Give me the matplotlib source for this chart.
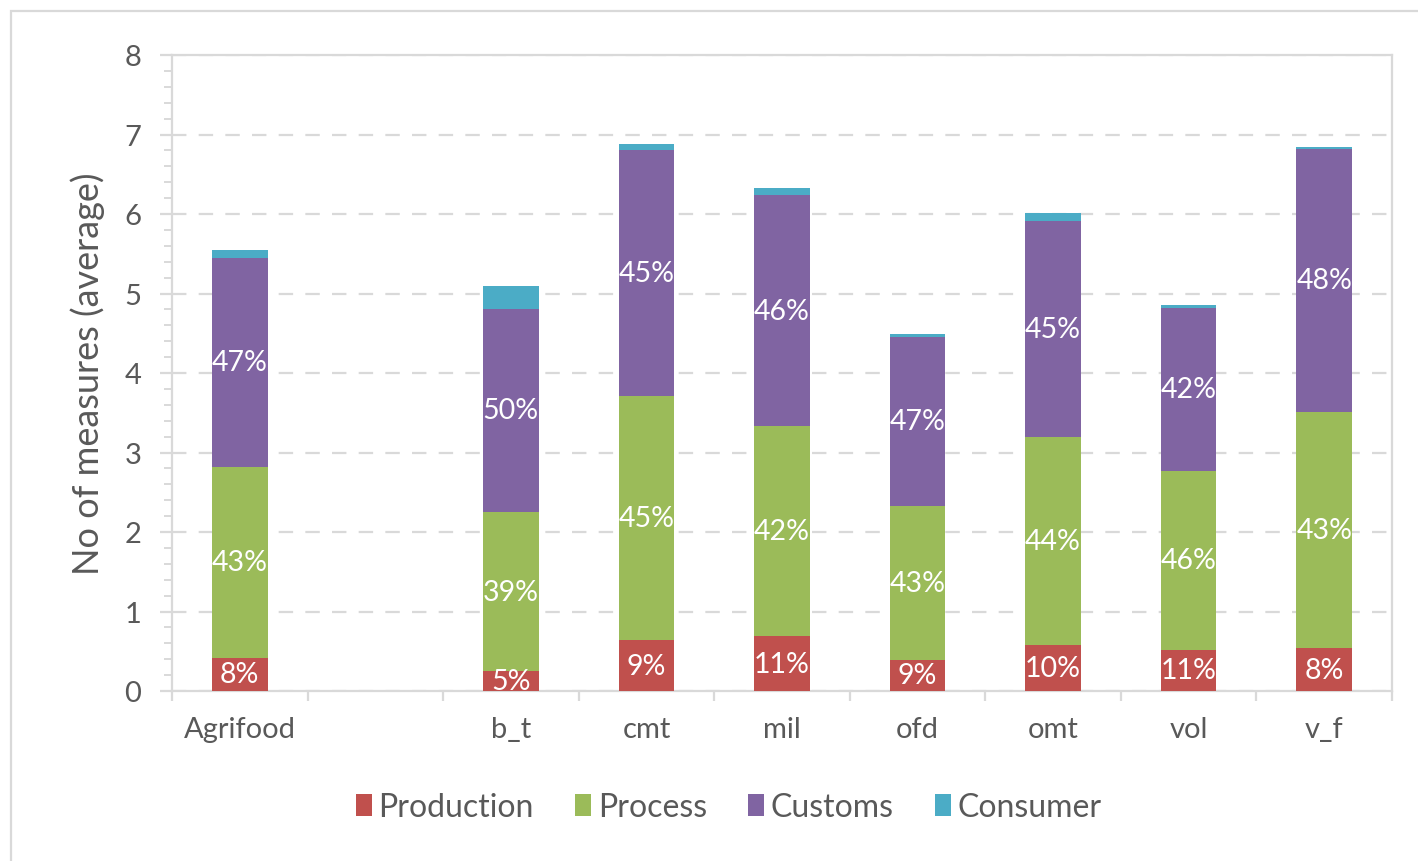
import numpy as np
import matplotlib
matplotlib.use("Agg")
import matplotlib.pyplot as plt
from matplotlib.patches import Rectangle

plt.rcParams['font.family'] = ['Lato', 'DejaVu Sans']

# Sectors (one empty spacer slot after the aggregate)
categories = ["Agrifood", "", "b_t", "cmt", "mil", "ofd", "omt", "vol", "v_f"]

# Average number of measures per stage
production = [0.42, np.nan, 0.25, 0.64, 0.69, 0.39, 0.58, 0.52, 0.54]
process    = [2.40, np.nan, 2.00, 3.07, 2.64, 1.94, 2.62, 2.25, 2.97]
customs    = [2.63, np.nan, 2.56, 3.09, 2.91, 2.12, 2.71, 2.05, 3.31]
consumer   = [0.10, np.nan, 0.29, 0.08, 0.09, 0.04, 0.10, 0.03, 0.02]

series_names = ["Production", "Process", "Customs", "Consumer"]
series_colors = ["#C0504D", "#9BBB59", "#8064A2", "#4BACC6"]
labelled = [True, True, True, False]

text_gray = "#595959"
line_gray = "#D9D9D9"

W, H = 1418, 862
fig = plt.figure(figsize=(W / 100, H / 100), dpi=100)
fig.patch.set_facecolor("white")

# chart frame (top and left edges visible)
fig.add_artist(Rectangle((11 / W, -0.1), 1.2, (H - 12) / H + 0.1,
                         transform=fig.transFigure, fill=False,
                         edgecolor=line_gray, linewidth=1.6))

ax = fig.add_axes([172 / W, (H - 692) / H, (1392 - 172) / W, (692 - 56) / H])

x = np.arange(len(categories))
data = [np.array(s, dtype=float) for s in (production, process, customs, consumer)]
totals = np.nansum(np.vstack(data), axis=0)
bottom = np.zeros(len(categories))
bar_w = 0.41

for vals, name, col, lab in zip(data, series_names, series_colors, labelled):
    v = np.nan_to_num(vals)
    ax.bar(x, v, bar_w, bottom=bottom, color=col, label=name, zorder=3)
    if lab:
        for xi, vi, bi, ti in zip(x, v, bottom, totals):
            if vi > 0:
                ax.text(xi, bi + vi / 2, f"{round(100 * vi / ti):.0f}%",
                        ha="center", va="center", color="white",
                        fontsize=20.5, zorder=4)
    bottom = bottom + v

ax.set_xlim(-0.5, len(categories) - 0.5)
ax.set_ylim(0, 8)

# y axis
ax.set_yticks(np.arange(0, 9, 1))
ax.set_yticks(np.arange(0, 8.01, 0.2), minor=True)
ax.tick_params(axis="y", which="major", length=9, width=1.6, color=line_gray,
               labelsize=21, labelcolor=text_gray, pad=13)
ax.tick_params(axis="y", which="minor", length=6, width=1.4, color=line_gray)
ax.yaxis.grid(True, which="major", color=line_gray, linewidth=1.6,
              linestyle=(0, (6.5, 5.5)), zorder=0)
ax.set_ylabel("No of measures (average)", fontsize=26, color=text_gray,
              labelpad=14)

# x axis: boundary ticks, labels at category centres
ax.set_xticks(np.arange(-0.5, len(categories), 1))
ax.set_xticklabels([])
ax.set_xticks(x, minor=True)
ax.set_xticklabels(categories, minor=True)
ax.tick_params(axis="x", which="major", length=7, width=1.6, color=line_gray)
ax.tick_params(axis="x", which="minor", length=0, labelsize=21,
               labelcolor=text_gray, pad=18)

for side in ["left", "right", "top", "bottom"]:
    ax.spines[side].set_color(line_gray)
    ax.spines[side].set_linewidth(1.6)
ax.set_axisbelow(True)

leg = fig.legend(loc="center", bbox_to_anchor=(729 / W, 1 - 808 / H), ncol=4,
                 frameon=False, fontsize=23, handlelength=0.5, handleheight=0.7,
                 handletextpad=0.2, columnspacing=1.3)
for t in leg.get_texts():
    t.set_color(text_gray)

fig.savefig("out.png", dpi=100, facecolor="white")
